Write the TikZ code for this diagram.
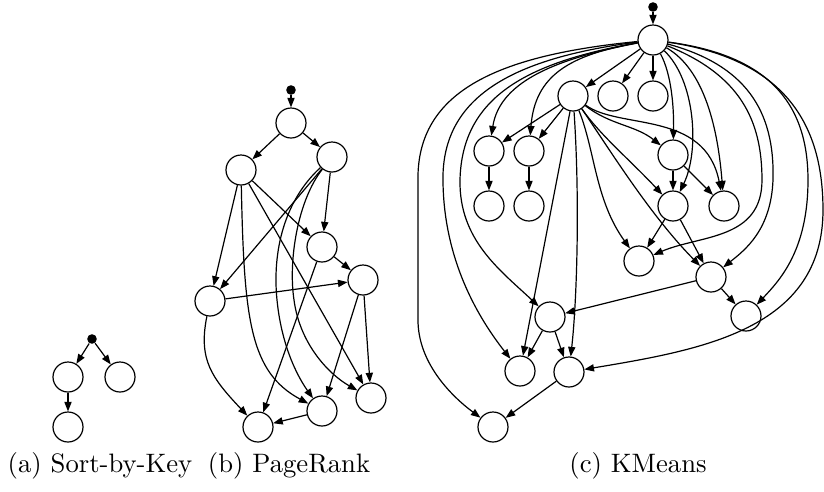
\documentclass[tikz,border=0pt]{standalone}
\usetikzlibrary{arrows.meta}
\begin{document}
\begin{tikzpicture}[x=0.375pt,y=-0.375pt,
 vtx/.style={circle,draw,line width=0.45pt,minimum size=11.25pt,inner sep=0pt},
 dotnode/.style={circle,fill=black,inner sep=0pt,minimum size=3.6pt},
 edge/.style={-{Triangle[length=3.6pt,width=2.7pt]},line width=0.45pt},
 captext/.style={inner sep=0pt}]
\useasboundingbox (0,0) rectangle (824,491);
% ---------- (a) Sort-by-Key
\node[dotnode] (a0) at (92,339) {};
\node[vtx] (a1) at (68,377) {};
\node[vtx] (a2) at (120,377) {};
\node[vtx] (a3) at (68,427) {};
\draw[edge] (a0) -- (a1);
\draw[edge] (a0) -- (a2);
\draw[edge] (a1) -- (a3);
\node[captext] (capa) at (100,466) {(a) Sort-by-Key};
% ---------- (b) PageRank
\node[dotnode] (p0) at (291,90) {};
\node[vtx] (p1) at (291,123) {};
\node[vtx] (p2) at (332,157) {};
\node[vtx] (p3) at (241,170) {};
\node[vtx] (p4) at (322,247) {};
\node[vtx] (p5) at (363,280) {};
\node[vtx] (p6) at (210,301) {};
\node[vtx] (p7) at (258,427) {};
\node[vtx] (p8) at (322,411) {};
\node[vtx] (p9) at (371,398) {};
\draw[edge] (p0) -- (p1);
\draw[edge] (p1) -- (p3);
\draw[edge] (p1) -- (p2);
\draw[edge] (p3) -- (p6);
\draw[edge] (p2) -- (p6);
\draw[edge] (p3) -- (p4);
\draw[edge] (p2) -- (p4);
\draw[edge] (p4) -- (p5);
\draw[edge] (p6) -- (p5);
\draw[edge] (p4) -- (p7);
\draw[edge] (p5) -- (p8);
\draw[edge] (p5) -- (p9);
\draw[edge] (p3) -- (p9);
\draw[edge] (p8) -- (p7);
\draw[edge] (p6) .. controls (198,360) and (212,378) .. (p7);
\draw[edge] (p3) .. controls (244,320) and (250,372) .. (p8);
\draw[edge] (p2) .. controls (285,200) and (272,250) .. (277,300) .. controls (282,350) and (300,380) .. (p8);
\draw[edge] (p2) .. controls (298,200) and (288,260) .. (294,300) .. controls (300,345) and (330,375) .. (p9);
\node[captext] (capb) at (289,466) {(b) PageRank};
% ---------- (c) KMeans
\node[dotnode] (k) at (653,7) {};
\node[vtx] (k0) at (653,40) {};
\node[vtx] (k1) at (573,96) {};
\node[vtx] (k2) at (613,96) {};
\node[vtx] (k3) at (653,96) {};
\node[vtx] (k4) at (489,151) {};
\node[vtx] (k5) at (529,151) {};
\node[vtx] (k6) at (489,206) {};
\node[vtx] (k7) at (529,206) {};
\node[vtx] (k8) at (673,155) {};
\node[vtx] (k9) at (673,206) {};
\node[vtx] (k10) at (724,206) {};
\node[vtx] (k11) at (639,261) {};
\node[vtx] (k12) at (711,277) {};
\node[vtx] (k13) at (746,316) {};
\node[vtx] (k14) at (550,317) {};
\node[vtx] (k15) at (520,371) {};
\node[vtx] (k16) at (569,372) {};
\node[vtx] (k17) at (493,427) {};
\draw[edge] (k) -- (k0);
\draw[edge] (k0) -- (k1);
\draw[edge] (k0) -- (k2);
\draw[edge] (k0) -- (k3);
% left curves from k0
\draw[edge] (k0) .. controls (500,55) and (420,90) .. (418,175) -- (418,320) .. controls (418,362) and (450,395) .. (k17);
\draw[edge] (k0) .. controls (515,58) and (445,95) .. (443,175) .. controls (442,260) and (480,320) .. (k15);
\draw[edge] (k0) .. controls (530,62) and (462,95) .. (460,180) .. controls (459,240) and (500,270) .. (k14);
\draw[edge] (k0) .. controls (560,58) and (500,80) .. (k4);
\draw[edge] (k0) .. controls (570,55) and (535,75) .. (k5);
% right curves from k0
\draw[edge] (k0) .. controls (672,75) and (674,110) .. (k8);
\draw[edge] (k0) .. controls (695,80) and (700,150) .. (k9);
\draw[edge] (k0) .. controls (705,70) and (718,130) .. (k10);
\draw[edge] (k0) .. controls (740,75) and (762,120) .. (762,180) .. controls (762,240) and (700,235) .. (k11);
\draw[edge] (k0) .. controls (745,65) and (775,110) .. (773,180) .. controls (771,230) and (745,250) .. (k12);
\draw[edge] (k0) .. controls (765,55) and (808,100) .. (808,180) .. controls (808,250) and (780,280) .. (k13);
\draw[edge] (k0) .. controls (790,60) and (823,130) .. (823,210) .. controls (823,330) and (700,350) .. (k16);
% from k1
\draw[edge] (k1) -- (k4);
\draw[edge] (k1) -- (k5);
\draw[edge] (k1) .. controls (610,125) and (635,125) .. (k8);
\draw[edge] (k1) .. controls (620,130) and (705,110) .. (k10);
\draw[edge] (k1) .. controls (600,135) and (630,160) .. (k9);
\draw[edge] (k1) .. controls (595,150) and (595,200) .. (k11);
\draw[edge] (k1) .. controls (610,150) and (650,215) .. (k12);
\draw[edge] (k1) -- (k15);
\draw[edge] (k1) .. controls (580,200) and (577,300) .. (k16);
% others
\draw[edge] (k4) -- (k6);
\draw[edge] (k5) -- (k7);
\draw[edge] (k8) -- (k9);
\draw[edge] (k8) -- (k10);
\draw[edge] (k9) -- (k11);
\draw[edge] (k9) -- (k12);
\draw[edge] (k12) -- (k13);
\draw[edge] (k12) -- (k14);
\draw[edge] (k14) -- (k15);
\draw[edge] (k14) -- (k16);
\draw[edge] (k16) -- (k17);
\node[captext] (capc) at (638,466) {(c) KMeans};
\end{tikzpicture}
\end{document}
